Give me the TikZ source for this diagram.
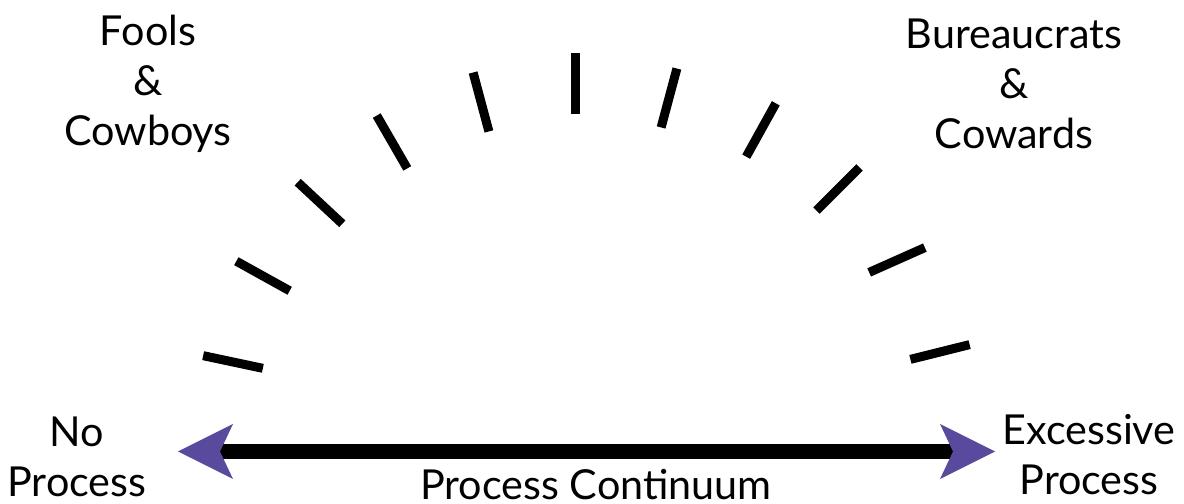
\documentclass[tikz,border=0pt]{standalone}
\usepackage{fontspec}
\setmainfont{Lato}
\usepackage{tikz}
\usetikzlibrary{arrows.meta,positioning}
\definecolor{TipPurple}{HTML}{5A4A9E}
\tikzset{
  gaugetext/.style={align=center,inner sep=0pt,font=\fontsize{23.5}{28.5}\selectfont},
  gaugetick/.style={line width=1.8mm,draw=black},
  PurpleTip/.tip={Stealth[length=11mm,width=11mm,inset=2.6mm,line width=0pt,color=TipPurple]},
  continuum/.style={line width=2.9mm,draw=black,{PurpleTip}-{PurpleTip}}
}

\begin{document}
\begin{tikzpicture}
  \useasboundingbox (0,0) rectangle (23.68,10.08);

  \node[gaugetext] (fools) at (2.96,8.40) {Fools\\\&\\Cowboys};
  \node[gaugetext] (bureaucrats) at (20.28,8.40) {Bureaucrats\\\&\\Cowards};
  \node[gaugetext] (noprocess) at (1.54,0.94) {No\\Process};
  \node[gaugetext] (excessive) at (21.78,0.98) {Excessive\\Process};
  \node[gaugetext,anchor=base] (continuumlabel) at (11.92,0.09) {Process Continuum};

  % tick marks of the gauge: centre x / centre y / angle
  \foreach \x/\y/\a in {4.66/2.84/168, 5.26/4.56/151, 6.40/6.02/137, 7.84/7.24/120,
                        9.62/8.04/105, 11.50/8.40/90, 13.38/8.12/75, 15.22/7.48/61,
                        16.76/6.30/45, 17.94/4.88/24, 18.80/3.04/14}
    \draw[gaugetick] (\x,\y) ++(\a+180:0.61) -- ++(\a:1.22);

  \coordinate (lefttip) at (3.56,1.05);
  \coordinate (righttip) at (19.90,1.05);
  \draw[continuum] (lefttip) -- (righttip);
\end{tikzpicture}
\end{document}
